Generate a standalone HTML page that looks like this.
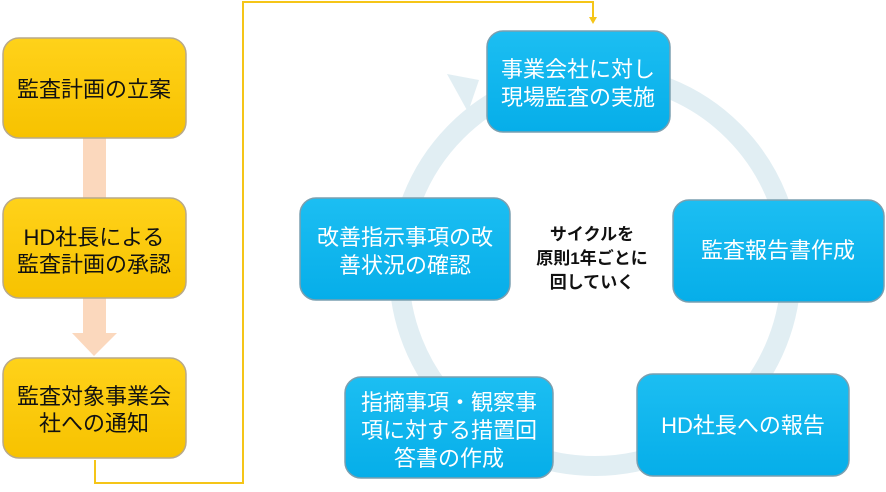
<!DOCTYPE html>
<html><head><meta charset="utf-8"><style>
body{margin:0;background:#fff;}
svg{display:block;}
text{font-family:"Liberation Sans","Noto Sans CJK JP",sans-serif;}
</style></head><body>
<svg width="886" height="492" viewBox="0 0 886 492" xmlns="http://www.w3.org/2000/svg">
<defs>
<linearGradient id="yg" x1="0" y1="0" x2="0" y2="1">
<stop offset="0" stop-color="#ffd21a"/><stop offset="1" stop-color="#f7c200"/>
</linearGradient>
<linearGradient id="bg" x1="0" y1="0" x2="0" y2="1">
<stop offset="0" stop-color="#1cbef2"/><stop offset="1" stop-color="#06aee9"/>
</linearGradient>
</defs>
<circle cx="595" cy="270" r="196" fill="none" stroke="#e1eef3" stroke-width="20"/>
<polygon points="479,80 447,74 468,112" fill="#e1eef3"/>
<rect x="83" y="138" width="23" height="62" fill="#fbd8bd"/>
<rect x="83" y="298" width="23" height="36" fill="#fbd8bd"/>
<polygon points="72,333 117,333 94,356" fill="#fbd8bd"/>
<polyline points="95,460 95,483 243,483 243,2 593,2 593,18" fill="none" stroke="#f5c518" stroke-width="2"/>
<polygon points="589,17 597,17 593,24" fill="#f5c518"/>
<g stroke="#b8a98a" stroke-width="1.5" fill="url(#yg)">
<rect x="3" y="38" width="183" height="100" rx="16"/>
<rect x="3" y="198" width="183" height="100" rx="16"/>
<rect x="3" y="358" width="183" height="100" rx="16"/>
</g>
<g font-size="22" fill="#111" text-anchor="middle">
<text x="94" y="97">監査計画の立案</text>
<text x="94" y="245">HD社長による</text>
<text x="94" y="272">監査計画の承認</text>
<text x="94" y="404">監査対象事業会</text>
<text x="94" y="431">社への通知</text>
</g>
<g stroke="#7a9fb0" stroke-width="1.5" fill="url(#bg)">
<rect x="487" y="31" width="183" height="101" rx="16"/>
<rect x="300" y="198" width="210" height="102" rx="16"/>
<rect x="673" y="200" width="211" height="102" rx="16"/>
<rect x="345" y="377" width="208" height="101" rx="16"/>
<rect x="637" y="374" width="212" height="102" rx="16"/>
</g>
<g font-size="22" fill="#fff" text-anchor="middle">
<text x="578" y="77">事業会社に対し</text>
<text x="578" y="105">現場監査の実施</text>
<text x="405" y="245">改善指示事項の改</text>
<text x="405" y="273">善状況の確認</text>
<text x="778" y="258">監査報告書作成</text>
<text x="743" y="433">HD社長への報告</text>
<text x="449" y="410">指摘事項・観察事</text>
<text x="449" y="438">項に対する措置回</text>
<text x="449" y="466">答書の作成</text>
</g>
<g font-size="17" font-weight="bold" fill="#111" text-anchor="middle">
<text x="592" y="240">サイクルを</text>
<text x="592" y="264">原則1年ごとに</text>
<text x="592" y="288">回していく</text>
</g>
</svg>
</body></html>
